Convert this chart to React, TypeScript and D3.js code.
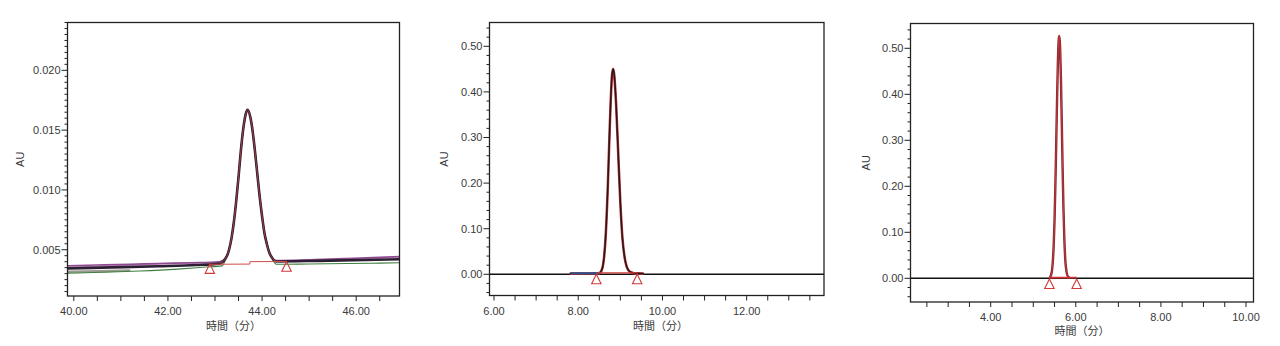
import React from 'react';
import * as d3 from 'd3';

type Pt = [number, number];

// ---------------- Panel 1 (40–47 min, low-level traces) ----------------
const P1_X_LABELS = [40, 42, 44, 46];
const P1_Y_LABELS = [0.005, 0.01, 0.015, 0.02];
const P1_PEAK: Pt[] = [
  [43.25, 0.00445], [43.3, 0.00502], [43.35, 0.00595], [43.4, 0.0073], [43.45, 0.00905],
  [43.5, 0.0111], [43.55, 0.0133], [43.6, 0.0151], [43.65, 0.0163], [43.69, 0.0167],
  [43.75, 0.0161], [43.8, 0.0149], [43.85, 0.0132], [43.9, 0.0113], [43.95, 0.0094],
  [44.0, 0.0078], [44.05, 0.0064], [44.1, 0.0055], [44.15, 0.0048], [44.2, 0.0044],
];
const P1_PURPLE_L: Pt[] = [[39.87, 0.00366], [40.5, 0.00372], [41.2, 0.00378], [41.8, 0.00385], [42.5, 0.00391], [43.1, 0.004]];
const P1_PURPLE_R: Pt[] = [[44.3, 0.0041], [45.0, 0.00416], [45.8, 0.00426], [46.5, 0.00436], [46.92, 0.00443]];
const P1_PINK_L: Pt[] = [[39.87, 0.00355], [40.8, 0.00365], [41.6, 0.00376], [42.4, 0.00386], [43.1, 0.00395]];
const P1_PINK_R: Pt[] = [[44.3, 0.00405], [45.2, 0.00413], [46.2, 0.00425], [46.92, 0.00436]];
const P1_DARK_L: Pt[] = [[39.87, 0.00344], [40.8, 0.00352], [41.8, 0.00362], [42.6, 0.00372], [43.1, 0.00384]];
const P1_DARK_R: Pt[] = [[44.3, 0.00402], [45.2, 0.00407], [46.2, 0.00414], [46.92, 0.0042]];
const P1_GREEN_L: Pt[] = [[39.87, 0.00303], [40.6, 0.00311], [41.4, 0.00322], [42.2, 0.00338], [42.8, 0.00355], [43.15, 0.00365]];
const P1_GREEN_R: Pt[] = [[44.3, 0.00378], [45.0, 0.00381], [45.8, 0.00385], [46.5, 0.00388], [46.92, 0.00391]];
const P1_GRAY: Pt[] = [[39.87, 0.00316], [40.5, 0.0032], [41.2, 0.00327]];
const P1_RED_L: Pt[] = [[43.1, 0.00385]];
const P1_RED_R: Pt[] = [[44.3, 0.00402]];
const P1_BASELINE: Pt[] = [[42.89, 0.00378], [43.74, 0.0038], [43.74, 0.004], [44.52, 0.00402]];
const P1_MARKERS: Pt[] = [[42.89, 0.00382], [44.52, 0.004]];

// ---------------- Panel 2 (6–14 min) ----------------
const P2_X_LABELS = [6, 8, 10, 12];
const P2_Y_LABELS = [0.0, 0.1, 0.2, 0.3, 0.4, 0.5];
const P2_PEAK: Pt[] = [
  [8.45, 0.0022], [8.5, 0.0028], [8.55, 0.0075], [8.6, 0.0266], [8.65, 0.081], [8.7, 0.186],
  [8.75, 0.327], [8.8, 0.434], [8.826, 0.45], [8.85, 0.441], [8.9, 0.372], [8.95, 0.264],
  [9.0, 0.157], [9.05, 0.079], [9.1, 0.038], [9.15, 0.017], [9.2, 0.008], [9.25, 0.0045],
  [9.3, 0.003], [9.4, 0.0022],
];
const P2_BLACK_L: Pt[] = [[7.8, 0.0015], [8.3, 0.0018]];
const P2_BLACK_R: Pt[] = [[9.52, 0.0015], [9.56, 0.001]];
const P2_BLUE: Pt[] = [[7.83, 0.0022], [8.52, 0.0022]];
const P2_BASELINE: Pt[] = [[8.43, 0.003], [9.4, 0.003]];
const P2_MARKERS: Pt[] = [[8.43, 0.0], [9.4, 0.0]];

// ---------------- Panel 3 (2–10 min) ----------------
const P3_X_LABELS = [4, 6, 8, 10];
const P3_Y_LABELS = [0.0, 0.1, 0.2, 0.3, 0.4, 0.5];
const P3_PEAK: Pt[] = [
  [5.38, 0.001], [5.42, 0.0074], [5.45, 0.025], [5.48, 0.071], [5.5, 0.126], [5.52, 0.203],
  [5.54, 0.295], [5.56, 0.392], [5.58, 0.474], [5.6, 0.521], [5.612, 0.527], [5.63, 0.505],
  [5.65, 0.437], [5.67, 0.34], [5.69, 0.238], [5.71, 0.151], [5.73, 0.087], [5.75, 0.044],
  [5.78, 0.015], [5.82, 0.003], [5.86, 0.001],
];
const P3_BASELINE: Pt[] = [[5.38, 0.0015], [6.02, 0.0015]];
const P3_MARKERS: Pt[] = [[5.38, -0.0015], [6.02, -0.0015]];

const X_TITLE = '時間（分）';
const Y_TITLE = 'AU';

type Trace = { data: Pt[]; color: string; width: number; smooth?: boolean };

type PanelProps = {
  id: string;
  left: number; right: number; top: number; bottom: number;
  xDomain: [number, number]; yDomain: [number, number];
  xLabels: number[]; yLabels: number[];
  xMinorStep: number; yMinorStep: number;
  xFmt: (v: number) => string; yFmt: (v: number) => string;
  traces: Trace[];
  markers: Pt[];
  zeroLine: boolean;
  yTitleX: number; xTitleY: number; xTickLabelY: number; xTitleX?: number;
};

const FONT = '"Liberation Sans", Arial, sans-serif';
const TEXT = '#3a3a3a';

function Panel(p: PanelProps) {
  const x = d3.scaleLinear().domain(p.xDomain).range([p.left, p.right]);
  const y = d3.scaleLinear().domain(p.yDomain).range([p.bottom, p.top]);
  const smoothLine = d3.line<Pt>().x(d => x(d[0])).y(d => y(d[1])).curve(d3.curveMonotoneX);
  const straightLine = d3.line<Pt>().x(d => x(d[0])).y(d => y(d[1]));

  const xs0 = Math.ceil(p.xDomain[0] / p.xMinorStep);
  const xs1 = Math.floor(p.xDomain[1] / p.xMinorStep);
  const xMinor = d3.range(xs0, xs1 + 1).map(i => i * p.xMinorStep);
  const ys0 = Math.ceil(p.yDomain[0] / p.yMinorStep - 1e-9);
  const ys1 = Math.floor(p.yDomain[1] / p.yMinorStep + 1e-9);
  const yMinor = d3.range(ys0, ys1 + 1).map(i => i * p.yMinorStep);

  const isMajorY = (v: number) => p.yLabels.some(l => Math.abs(l - v) < p.yMinorStep / 10);

  const cx = p.xTitleX ?? (p.left + p.right) / 2;
  const cy = (p.top + p.bottom) / 2;

  return (
    <g>
      <defs>
        <clipPath id={p.id}>
          <rect x={p.left} y={p.top} width={p.right - p.left} height={p.bottom - p.top} />
        </clipPath>
      </defs>
      <g clipPath={`url(#${p.id})`}>
        {p.zeroLine && (
          <line x1={p.left} x2={p.right} y1={y(0)} y2={y(0)} stroke="#111" strokeWidth={1.6} />
        )}
        {p.traces.map((t, i) => (
          <path key={i} d={(t.smooth === false ? straightLine : smoothLine)(t.data) || ''}
            fill="none" stroke={t.color} strokeWidth={t.width} strokeLinejoin="round" />
        ))}
        {p.markers.map((m, i) => {
          const mx = x(m[0]);
          const my = y(m[1]);
          return (
            <path key={i} d={`M${mx},${my} L${mx + 4.7},${my + 9.5} L${mx - 4.7},${my + 9.5} Z`}
              fill="none" stroke="#d03a3a" strokeWidth={1.1} />
          );
        })}
      </g>
      <rect x={p.left} y={p.top} width={p.right - p.left} height={p.bottom - p.top}
        fill="none" stroke="#222" strokeWidth={1.3} />
      {yMinor.map((v, i) => (
        <line key={i} x1={p.left} x2={p.left - (isMajorY(v) ? 6 : 3)} y1={y(v)} y2={y(v)} stroke="#222" strokeWidth={1} />
      ))}
      {p.yLabels.map((v, i) => (
        <text key={i} x={p.left - 7} y={y(v)} dy="0.35em" textAnchor="end" fontFamily={FONT}
          fontSize={11} fill={TEXT}>{p.yFmt(v)}</text>
      ))}
      {xMinor.map((v, i) => (
        <line key={i} x1={x(v)} x2={x(v)} y1={p.bottom} y2={p.bottom + 5} stroke="#222" strokeWidth={1} />
      ))}
      {p.xLabels.map((v, i) => (
        <text key={i} x={x(v)} y={p.xTickLabelY} textAnchor="middle" fontFamily={FONT}
          fontSize={11} fill={TEXT}>{p.xFmt(v)}</text>
      ))}
      <text x={cx} y={p.xTitleY} textAnchor="middle" fontFamily='"Noto Sans CJK JP", sans-serif'
        fontSize={11} fill={TEXT}>{X_TITLE}</text>
      <text transform={`translate(${p.yTitleX},${cy}) rotate(-90)`} textAnchor="middle" dy="0.35em"
        fontFamily={FONT} fontSize={11} fill={TEXT}>{Y_TITLE}</text>
    </g>
  );
}

export default function App() {
  const f2 = (v: number) => v.toFixed(2);
  const f3 = (v: number) => v.toFixed(3);

  const p1Traces: Trace[] = [
    { data: P1_GRAY, color: '#9a9a90', width: 2.4 },
    { data: [...P1_GREEN_L, ...P1_PEAK, ...P1_GREEN_R], color: '#3f7f3f', width: 1.1 },
    { data: [...P1_PINK_L, ...P1_PEAK, ...P1_PINK_R], color: '#c58ec5', width: 1.2 },
    { data: [...P1_PURPLE_L, ...P1_PEAK, ...P1_PURPLE_R], color: '#8e4a8e', width: 1.6 },
    { data: [...P1_DARK_L, ...P1_PEAK, ...P1_DARK_R], color: '#2d1f33', width: 2.6 },
    { data: [...P1_RED_L, ...P1_PEAK, ...P1_RED_R], color: '#d24a4a', width: 0.7 },
    { data: P1_BASELINE, color: '#d24a4a', width: 1, smooth: false },
  ];
  const p2Traces: Trace[] = [
    { data: [...P2_BLACK_L, ...P2_PEAK, ...P2_BLACK_R], color: '#d03a3a', width: 2.6 },
    { data: [...P2_BLACK_L, ...P2_PEAK, ...P2_BLACK_R], color: '#1e1a1e', width: 1.5 },
    { data: P2_BLUE, color: '#2f4f8f', width: 2, smooth: false },
    { data: P2_BASELINE, color: '#d03a3a', width: 1.2, smooth: false },
  ];
  const p3Traces: Trace[] = [
    { data: P3_PEAK, color: '#7a2a2e', width: 2.4 },
    { data: P3_PEAK, color: '#d0353a', width: 1 },
    { data: P3_BASELINE, color: '#d0353a', width: 1.6, smooth: false },
  ];

  return (
    <svg width={1280} height={346} style={{ position: 'absolute', left: 0, top: 0, background: '#fff' }}>
      <Panel id="c1" left={67.5} right={399.5} top={22.5} bottom={296}
        xDomain={[39.866, 46.92]} yDomain={[0.00113, 0.024]}
        xLabels={P1_X_LABELS} yLabels={P1_Y_LABELS} xMinorStep={0.5} yMinorStep={0.0005}
        xFmt={f2} yFmt={f3} traces={p1Traces} markers={P1_MARKERS} zeroLine={false}
        yTitleX={20} xTitleY={330} xTickLabelY={315} />
      <Panel id="c2" left={489.5} right={824} top={22.5} bottom={295.5}
        xDomain={[5.893, 13.836]} yDomain={[-0.0465, 0.5522]}
        xLabels={P2_X_LABELS} yLabels={P2_Y_LABELS} xMinorStep={0.5} yMinorStep={0.02}
        xFmt={f2} yFmt={f2} traces={p2Traces} markers={P2_MARKERS} zeroLine={true}
        yTitleX={444.5} xTitleY={330} xTickLabelY={315} xTitleX={660.5} />
      <Panel id="c3" left={910.5} right={1253.5} top={23.5} bottom={302}
        xDomain={[2.115, 10.176]} yDomain={[-0.0515, 0.5539]}
        xLabels={P3_X_LABELS} yLabels={P3_Y_LABELS} xMinorStep={0.5} yMinorStep={0.02}
        xFmt={f2} yFmt={f2} traces={p3Traces} markers={P3_MARKERS} zeroLine={true}
        yTitleX={866} xTitleY={335} xTickLabelY={320.5} />
    </svg>
  );
}
